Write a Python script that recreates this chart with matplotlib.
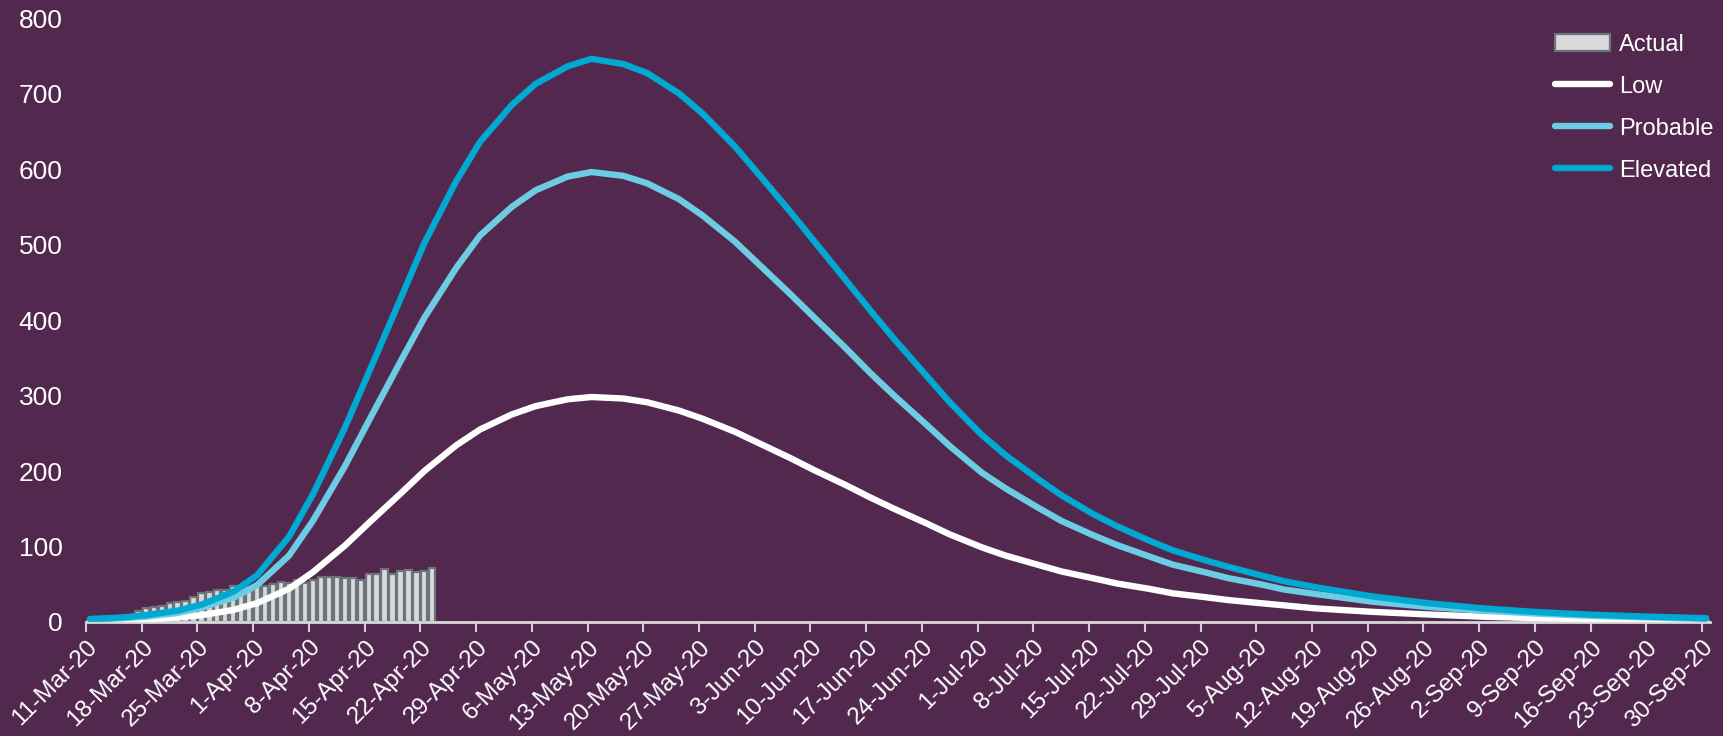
import pandas as pd
import matplotlib
matplotlib.use('Agg')
import matplotlib.pyplot as plt

plt.rcParams['font.family'] = ['Liberation Sans', 'DejaVu Sans']

# daily actual counts, starting 11-Mar-20
actual_start = '2020-03-11'
actual = [1, 2, 3, 4, 5, 7, 14, 19, 20, 21, 25, 26, 28, 33, 39, 40, 42, 43, 48, 46,
          46, 48, 48, 50, 53, 51, 56, 51, 56, 59, 59, 59, 58, 58, 55, 63, 64, 70, 64, 68,
          69, 66, 68, 71]

# projection curves
proj_dates = ['11-Mar-20', '15-Mar-20', '18-Mar-20', '22-Mar-20', '25-Mar-20', '29-Mar-20',
              '1-Apr-20', '5-Apr-20', '8-Apr-20', '12-Apr-20', '15-Apr-20', '19-Apr-20',
              '22-Apr-20', '26-Apr-20', '29-Apr-20', '3-May-20', '6-May-20', '10-May-20',
              '13-May-20', '17-May-20', '20-May-20', '24-May-20', '27-May-20', '31-May-20',
              '3-Jun-20', '7-Jun-20', '10-Jun-20', '14-Jun-20', '17-Jun-20', '20-Jun-20',
              '24-Jun-20', '27-Jun-20', '1-Jul-20', '4-Jul-20', '8-Jul-20', '11-Jul-20',
              '15-Jul-20', '18-Jul-20', '22-Jul-20', '25-Jul-20', '29-Jul-20', '1-Aug-20',
              '5-Aug-20', '8-Aug-20', '12-Aug-20', '19-Aug-20', '26-Aug-20', '2-Sep-20',
              '9-Sep-20', '16-Sep-20', '23-Sep-20', '30-Sep-20']
low = [1.5, 2.5, 3.5, 6, 9, 16, 25, 44, 66, 101, 131, 170, 200, 234, 255, 275, 286, 295, 298,
       296, 291, 280, 269, 252, 237, 217, 201, 181, 165,
       150, 131, 116, 99, 88, 76, 67, 58, 51, 44, 38, 33, 29, 25, 22, 18,
       13.5, 10, 7, 5, 4, 3, 2]
probable = [3, 5, 7, 12, 19, 32, 49, 88, 134, 206, 266, 345, 403, 469, 512, 550, 572, 590, 596,
            591, 581, 560, 538, 504, 474, 434, 403, 362, 330,
            300, 262, 233, 198, 177, 152, 134, 115, 102, 87, 76, 66, 58, 50, 43, 37,
            27, 20, 15, 11, 8, 6, 4]
elevated = [4, 6, 9, 15, 23, 40, 62, 113, 169, 257, 330, 428, 502, 584, 636, 685, 713, 736, 746,
            739, 727, 700, 673, 630, 593, 543, 504, 452, 413,
            375, 327, 291, 248, 221, 190, 168, 143, 127, 108, 95, 82, 73, 62, 54, 46,
            34, 25, 18, 13, 9.5, 7, 5]

bg = '#52284E'
half_day = pd.Timedelta(hours=12)

fig = plt.figure(figsize=(17.24, 7.36), dpi=100, facecolor=bg)
ax = fig.add_axes([0.0499, 0.1549, 0.942, 0.8206])
ax.set_facecolor(bg)

bar_x = pd.date_range(actual_start, periods=len(actual), freq='D') + half_day
ax.bar(bar_x, actual, width=0.78, color='#D9D9D9', edgecolor='#6B747B', linewidth=1.6,
       label='Actual', zorder=2)

px = pd.to_datetime(proj_dates, format='%d-%b-%y') + half_day
ax.plot(px, low, color='white', lw=4.6, solid_capstyle='round', solid_joinstyle='round',
        label='Low', zorder=3)
ax.plot(px, probable, color='#6CCCE4', lw=4.6, solid_capstyle='round', solid_joinstyle='round',
        label='Probable', zorder=4)
ax.plot(px, elevated, color='#00A9D2', lw=4.6, solid_capstyle='round', solid_joinstyle='round',
        label='Elevated', zorder=5)

ticks = pd.date_range('2020-03-11', '2020-09-30', freq='7D')
ax.set_xticks(ticks)
ax.set_xticklabels([f"{t.day}-{t.strftime('%b-%y')}" for t in ticks], rotation=45,
                   ha='right', rotation_mode='anchor')
ax.set_xlim(pd.Timestamp('2020-03-11'), pd.Timestamp('2020-10-01'))
ax.set_ylim(0, 800)
ax.set_yticks(range(0, 801, 100))

ax.tick_params(axis='x', colors='#D0D0D0', labelcolor='white', labelsize=17.5, length=7,
               width=1.5, pad=3)
ax.tick_params(axis='y', length=0, labelcolor='white', labelsize=19, pad=17)
for s in ['top', 'right', 'left']:
    ax.spines[s].set_visible(False)
ax.spines['bottom'].set_color('#D9D9D9')
ax.spines['bottom'].set_linewidth(2)

handles, labels = ax.get_legend_handles_labels()
order = [labels.index(n) for n in ['Actual', 'Low', 'Probable', 'Elevated']]
leg = ax.legend([handles[i] for i in order], [labels[i] for i in order],
                loc='upper right', bbox_to_anchor=(1.008, 0.99), frameon=False,
                fontsize=17, handlelength=2.3, labelspacing=0.85, handletextpad=0.4,
                borderaxespad=0)
for t in leg.get_texts():
    t.set_color('white')

plt.savefig('out.png', dpi=100, facecolor=bg)
